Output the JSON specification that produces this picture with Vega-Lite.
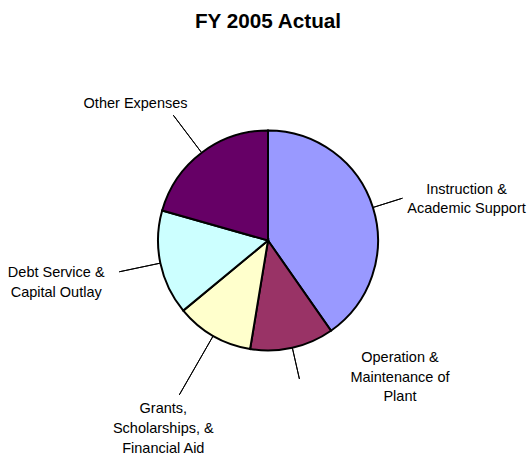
{
  "$schema": "https://vega.github.io/schema/vega-lite/v6.json",
  "width": 528,
  "height": 401,
  "autosize": {"type": "none"},
  "padding": {"left": 4, "top": 40, "right": 0, "bottom": 14},
  "title": {"text": "FY 2005 Actual", "font": "Liberation Sans", "fontSize": 20.7, "fontWeight": "bold", "color": "black", "anchor": "middle", "baseline": "alphabetic", "offset": -9},
  "config": {"view": {"stroke": null}, "font": "Liberation Sans"},
  "data": {"values": [
    {"n": 1, "cat": "Instruction", "label": "Instruction &\nAcademic Support", "value": 40.3},
    {"n": 2, "cat": "Operation", "label": "Operation &\nMaintenance of\nPlant", "value": 12.3},
    {"n": 3, "cat": "Grants", "label": "Grants,\nScholarships, &\nFinancial Aid", "value": 11.4},
    {"n": 4, "cat": "Debt", "label": "Debt Service &\nCapital Outlay", "value": 15.4},
    {"n": 5, "cat": "Other", "label": "Other Expenses", "value": 20.6}
  ]},
  "encoding": {
    "theta": {"field": "value", "type": "quantitative", "stack": true},
    "order": {"field": "n", "type": "quantitative", "sort": "ascending"},
    "detail": {"field": "cat", "type": "nominal"}
  },
  "layer": [
    {
      "mark": {"type": "arc", "outerRadius": 110, "stroke": "black", "strokeWidth": 2},
      "encoding": {
        "color": {"field": "cat", "type": "nominal", "legend": null,
          "scale": {"domain": ["Instruction", "Operation", "Grants", "Debt", "Other"],
                    "range": ["#9999FF", "#993366", "#FFFFCC", "#CCFFFF", "#660066"]}}
      }
    },
    {"mark": {"type": "arc", "innerRadius": 110, "outerRadius": 141, "padAngle": 3.1, "filled": false, "stroke": "black", "strokeWidth": 1},
     "encoding": {"strokeOpacity": {"condition": {"test": "datum.cat === 'Instruction'", "value": 1}, "value": 0}}},
    {"mark": {"type": "arc", "innerRadius": 110, "outerRadius": 142, "padAngle": 3.1, "filled": false, "stroke": "black", "strokeWidth": 1},
     "encoding": {"strokeOpacity": {"condition": {"test": "datum.cat === 'Operation'", "value": 1}, "value": 0}}},
    {"mark": {"type": "arc", "innerRadius": 110, "outerRadius": 178, "padAngle": 3.1, "filled": false, "stroke": "black", "strokeWidth": 1},
     "encoding": {"strokeOpacity": {"condition": {"test": "datum.cat === 'Grants'", "value": 1}, "value": 0}}},
    {"mark": {"type": "arc", "innerRadius": 110, "outerRadius": 152, "padAngle": 3.1, "filled": false, "stroke": "black", "strokeWidth": 1},
     "encoding": {"strokeOpacity": {"condition": {"test": "datum.cat === 'Debt'", "value": 1}, "value": 0}}},
    {"mark": {"type": "arc", "innerRadius": 110, "outerRadius": 157, "padAngle": 3.1, "filled": false, "stroke": "black", "strokeWidth": 1},
     "encoding": {"strokeOpacity": {"condition": {"test": "datum.cat === 'Other'", "value": 1}, "value": 0}}},
    {"mark": {"type": "text", "radius": 141, "dx": 64, "dy": -8.5, "align": "center", "baseline": "middle", "fontSize": 14.5, "lineHeight": 19.7, "lineBreak": "\n", "color": "black"},
     "encoding": {"text": {"condition": {"test": "datum.cat === 'Instruction'", "field": "label"}, "value": ""}}},
    {"mark": {"type": "text", "radius": 140, "dx": 101, "dy": -19, "align": "center", "baseline": "middle", "fontSize": 14.5, "lineHeight": 19.7, "lineBreak": "\n", "color": "black"},
     "encoding": {"text": {"condition": {"test": "datum.cat === 'Operation'", "field": "label"}, "value": ""}}},
    {"mark": {"type": "text", "radius": 178, "dx": -16, "dy": 14.5, "align": "center", "baseline": "middle", "fontSize": 14.5, "lineHeight": 19.7, "lineBreak": "\n", "color": "black"},
     "encoding": {"text": {"condition": {"test": "datum.cat === 'Grants'", "field": "label"}, "value": ""}}},
    {"mark": {"type": "text", "radius": 150, "dx": -65, "dy": 2, "align": "center", "baseline": "middle", "fontSize": 14.5, "lineHeight": 19.7, "lineBreak": "\n", "color": "black"},
     "encoding": {"text": {"condition": {"test": "datum.cat === 'Debt'", "field": "label"}, "value": ""}}},
    {"mark": {"type": "text", "radius": 145, "dx": -45, "dy": -21, "align": "center", "baseline": "middle", "fontSize": 14.5, "lineHeight": 19.7, "lineBreak": "\n", "color": "black"},
     "encoding": {"text": {"condition": {"test": "datum.cat === 'Other'", "field": "label"}, "value": ""}}}
  ]
}
